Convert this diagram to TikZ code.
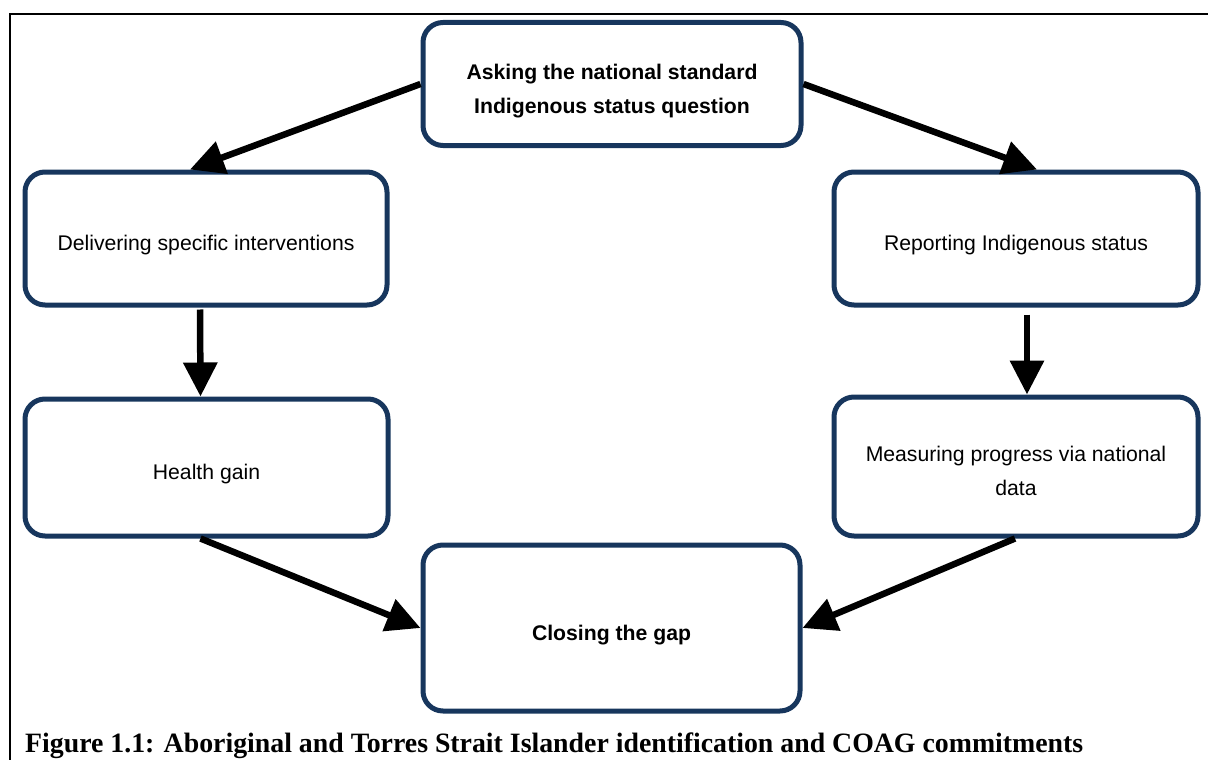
\documentclass[tikz,border=0pt]{standalone}
\usepackage{graphicx}
\usepackage{fontspec}
\setmainfont{Liberation Sans}
\newfontfamily\capfont{Liberation Serif}
\usetikzlibrary{arrows.meta,calc}
\definecolor{boxblue}{RGB}{23,54,93}
\newcommand{\boxtext}[1]{\raisebox{-5.5pt}[\height][\depth]{\begin{tabular}{@{}c@{}}#1\end{tabular}}}
\tikzset{
  flowbox/.style={draw=boxblue, line width=5pt, rounded corners=20pt, fill=white,
    inner sep=0pt, font=\fontsize{21.2}{34}\selectfont},
  flowarrow/.style={line width=6.5pt, -{Triangle[length=34pt,width=33pt]}},
}
\begin{document}
\begin{tikzpicture}[x=1pt,y=-1pt]
\useasboundingbox (0,0) rectangle (1208,760);
\fill[white] (0,0) rectangle (1208,760);
\draw[line width=2pt] (10,760) -- (10,14) -- (1208,14);

\node[flowbox, minimum width=378pt, minimum height=123pt, font=\fontsize{21.2}{34}\selectfont\bfseries]
  (ask) at (612,84) {\boxtext{Asking the national standard\\Indigenous status question}};
\node[flowbox, minimum width=362pt, minimum height=133pt] (deliver) at (206,238.5) {\boxtext{Delivering specific interventions}};
\node[flowbox, minimum width=364pt, minimum height=133pt] (report) at (1016,238.5) {\boxtext{Reporting Indigenous status}};
\node[flowbox, minimum width=363pt, minimum height=137pt] (health) at (206.5,467.5) {\boxtext{Health gain}};
\node[flowbox, minimum width=364pt, minimum height=139pt] (measure) at (1016,466.5) {\boxtext{Measuring progress via national\\data}};
\node[flowbox, minimum width=377pt, minimum height=166pt, font=\fontsize{21.2}{34}\selectfont\bfseries]
  (close) at (611.5,628) {\boxtext{Closing the gap}};

\draw[flowarrow] (ask.west) -- ([xshift=-16pt]deliver.north);
\draw[flowarrow] (ask.east) -- ([xshift=21pt]report.north);
\draw[flowarrow] ([xshift=-6pt,yshift=-2pt]deliver.south) -- ([xshift=-6pt]health.north);
\draw[flowarrow] ([xshift=11pt,yshift=-7pt]report.south) -- ([xshift=11pt]measure.north);
\draw[flowarrow] ([xshift=-6pt]health.south) -- (close.west);
\draw[flowarrow] ([xshift=-1pt]measure.south) -- (close.east);

\node[anchor=base west, inner sep=0pt] (cap) at (25,752)
  {\resizebox{1058pt}{\height}{\capfont\bfseries\fontsize{28}{30}\selectfont Figure 1.1: Aboriginal and Torres Strait Islander identification and COAG commitments}};
\end{tikzpicture}
\end{document}
